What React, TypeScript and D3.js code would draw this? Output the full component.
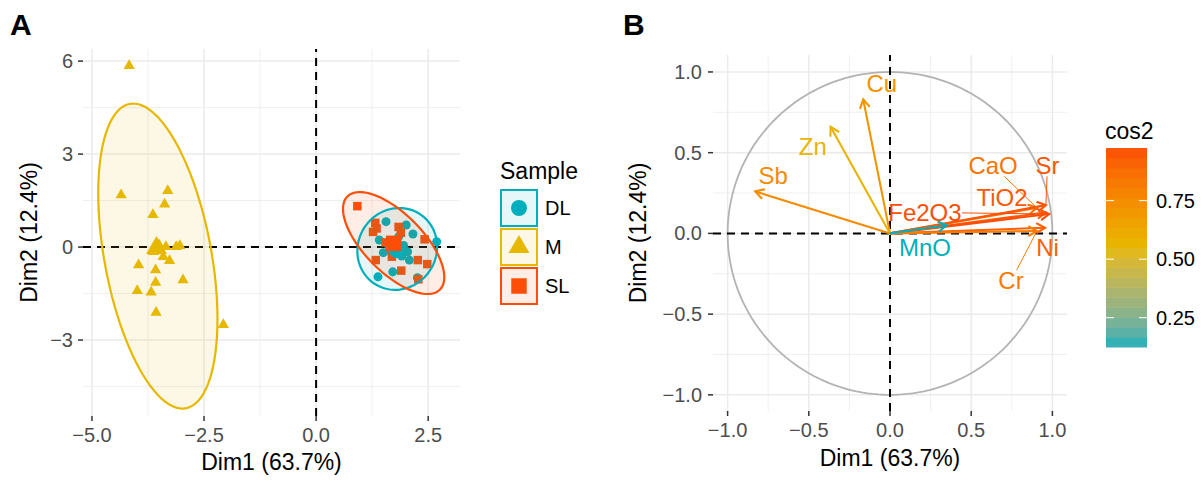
import React from "react";
import * as d3 from "d3";

const FONT = "'Liberation Sans', Arial, Helvetica, sans-serif";

// ---------- panel A : individuals ----------
const sampleGroups = ["DL", "M", "SL"];
const groupColors = ["#00AFBB", "#E7B800", "#FC4E07"];

const dlPoints: [number, number][] = [
  [1.56, 0.82], [2.01, 0.71], [2.16, 0.42], [1.41, 0.23], [2.69, 0.17],
  [1.5, -0.18], [1.67, -0.15], [1.88, -0.15], [2.04, -0.15], [1.91, -0.29],
  [2.08, -0.42], [1.71, -0.8], [1.38, -0.96], [2.26, -0.99], [1.84, 0.33],
  [1.62, 0.05], [1.95, 0.05],
];
const mPoints: [number, number][] = [
  [-4.17, 5.85], [-4.35, 1.68], [-3.31, 1.82], [-3.38, 1.38], [-3.64, 1.04],
  [-3.5, 0.06], [-3.35, 0.01], [-3.62, -0.15], [-3.12, 0.01], [-3.04, 0.04],
  [-3.41, -0.31], [-3.27, -0.44], [-3.96, -0.58], [-3.58, -0.74], [-2.97, -1.06],
  [-3.58, -1.14], [-3.99, -1.41], [-3.68, -1.46], [-3.57, -2.11], [-2.07, -2.51],
];
const slPoints: [number, number][] = [
  [0.92, 1.32], [1.32, 0.78], [1.27, 0.49], [1.35, 0.6], [1.84, 0.65],
  [1.89, 0.46], [2.42, 0.25], [1.33, -0.42], [1.69, -0.31], [2.27, -0.42],
  [2.48, -0.55], [1.9, -0.76], [2.28, -1.04], [1.55, 0.15],
];
const groupPoints = [dlPoints, mPoints, slPoints];
const groupMeans: [number, number][] = [[1.8, -0.1], [-3.56, -0.03], [1.73, 0.12]];
// ellipse per group: centre x, centre y, x radius, y radius, phase
const groupEllipses = [
  [1.81, -0.06, 0.89, 1.32, 0.053],
  [-3.53, -0.29, 1.33, 4.92, -0.425],
  [1.73, 0.13, 1.13, 1.645, -0.733],
];

const aXTicks = [-5, -2.5, 0, 2.5];
const aXMinor = [-3.75, -1.25, 1.25];
const aYTicks = [-3, 0, 3, 6];
const aYMinor = [-4.5, -1.5, 1.5, 4.5];

// ---------- panel B : variables ----------
const variables = ["Cu", "Zn", "Sb", "CaO", "Sr", "TiO2", "Fe2O3", "Ni", "Cr", "MnO"];
const varDim1 = [-0.165, -0.366, -0.83, 0.905, 0.96, 0.96, 0.98, 0.955, 0.905, 0.35];
const varDim2 = [0.83, 0.66, 0.26, 0.158, 0.175, 0.13, 0.12, 0.035, 0.015, 0.05];
const labelDim1 = [-0.05, -0.475, -0.72, 0.635, 0.97, 0.69, 0.215, 0.97, 0.745, 0.215];
const labelDim2 = [0.925, 0.54, 0.36, 0.42, 0.42, 0.22, 0.13, -0.085, -0.295, -0.085];
const labelSegment = [false, false, false, true, true, true, true, false, true, false];

const bTicks = [-1, -0.5, 0, 0.5, 1];
const bMinor = [-0.75, -0.25, 0.25, 0.75];
const cosTicks = [0.25, 0.5, 0.75];
const gradientColors = ["#00AFBB", "#E7B800", "#FC4E07"];

const GRID = "#EBEBEB";
const TICKTXT = "#4D4D4D";

function ellipsePath(e: number[], x: d3.ScaleLinear<number, number>, y: d3.ScaleLinear<number, number>) {
  const [cx, cy, rx, ry, ph] = e;
  const pts = d3.range(0, 100).map((i) => {
    const t = (i / 100) * 2 * Math.PI;
    return [x(cx + rx * Math.cos(t)), y(cy + ry * Math.sin(t + ph))] as [number, number];
  });
  return d3.line().curve(d3.curveLinearClosed)(pts) || "";
}

const symbolTypes = [d3.symbolCircle, d3.symbolTriangle, d3.symbolSquare];
const smallAreas = [64, 55, 72];
const bigAreas = [200, 190, 240];

function PanelA() {
  const x = d3.scaleLinear().domain([-5.2, 3.21]).range([83, 460]);
  const y = d3.scaleLinear().domain([-5.45, 6.39]).range([416, 49]);
  const [x0, x1] = x.range();
  const [y0, y1] = y.range();
  const fx = d3.format(".1f");
  const fy = d3.format("d");
  return (
    <g>
      {aXMinor.map((v) => <line key={"xm" + v} x1={x(v)} x2={x(v)} y1={y0} y2={y1} stroke={GRID} strokeWidth={0.8} />)}
      {aYMinor.map((v) => <line key={"ym" + v} x1={x0} x2={x1} y1={y(v)} y2={y(v)} stroke={GRID} strokeWidth={0.8} />)}
      {aXTicks.map((v) => <line key={"xM" + v} x1={x(v)} x2={x(v)} y1={y0} y2={y1} stroke={GRID} strokeWidth={1.5} />)}
      {aYTicks.map((v) => <line key={"yM" + v} x1={x0} x2={x1} y1={y(v)} y2={y(v)} stroke={GRID} strokeWidth={1.5} />)}
      <line x1={x0} x2={x1} y1={y(0)} y2={y(0)} stroke="#000" strokeWidth={2} strokeDasharray="8,6" />
      <line x1={x(0)} x2={x(0)} y1={y0} y2={y1} stroke="#000" strokeWidth={2} strokeDasharray="8,6" />
      {groupPoints.map((pts, g) =>
        pts.map((p, i) => (
          <path key={g + "-" + i} transform={`translate(${x(p[0])},${y(p[1])})`}
            d={d3.symbol(symbolTypes[g], smallAreas[g])() || ""} fill={groupColors[g]} />
        ))
      )}
      {groupEllipses.map((e, g) => (
        <path key={"ef" + g} d={ellipsePath(e, x, y)} fill={groupColors[g]} fillOpacity={0.1} stroke="none" />
      ))}
      {groupEllipses.map((e, g) => (
        <path key={"es" + g} d={ellipsePath(e, x, y)} fill="none" stroke={groupColors[g]} strokeWidth={2.2} />
      ))}
      {groupMeans.map((p, g) => (
        <path key={"mean" + g} transform={`translate(${x(p[0])},${y(p[1])})`}
          d={d3.symbol(symbolTypes[g], bigAreas[g])() || ""} fill={groupColors[g]} />
      ))}
      {aXTicks.map((v) => (
        <g key={"xt" + v}>
          <line x1={x(v)} x2={x(v)} y1={y0} y2={y0 + 5} stroke="#333" strokeWidth={1.5} />
          <text x={x(v)} y={442} textAnchor="middle" fontSize={20} fill={TICKTXT}>{fx(v)}</text>
        </g>
      ))}
      {aYTicks.map((v) => (
        <g key={"yt" + v}>
          <line x1={x0 - 5} x2={x0} y1={y(v)} y2={y(v)} stroke="#333" strokeWidth={1.5} />
          <text x={73} y={y(v)} dy="0.35em" textAnchor="end" fontSize={20} fill={TICKTXT}>{fy(v)}</text>
        </g>
      ))}
      <text x={(x0 + x1) / 2} y={470} textAnchor="middle" fontSize={23} fill="#000">Dim1 (63.7%)</text>
      <text transform={`translate(37,${(y0 + y1) / 2}) rotate(-90)`} textAnchor="middle" fontSize={23} fill="#000">Dim2 (12.4%)</text>
      <text x={10} y={35} fontSize={30} fontWeight="bold" fill="#000">A</text>
      {/* legend */}
      <text x={500} y={179} fontSize={23} fill="#000">Sample</text>
      {sampleGroups.map((s, g) => {
        const ky = 189 + g * 39;
        return (
          <g key={"lg" + s}>
            <rect x={501} y={ky + 1} width={36} height={36} fill="#fff" />
            <rect x={501} y={ky + 1} width={36} height={36} fill={groupColors[g]} fillOpacity={0.1}
              stroke={groupColors[g]} strokeWidth={2} />
            <path transform={`translate(519,${ky + 19})`} d={d3.symbol(symbolTypes[g], bigAreas[g])() || ""} fill={groupColors[g]} />
            <text x={545} y={ky + 19} dy="0.35em" fontSize={20} fill="#000">{s}</text>
          </g>
        );
      })}
    </g>
  );
}

function PanelB() {
  const x = d3.scaleLinear().domain([-1.09, 1.09]).range([713, 1067]);
  const y = d3.scaleLinear().domain([-1.1, 1.105]).range([411, 55]);
  const [x0, x1] = x.range();
  const [y0, y1] = y.range();
  const f = d3.format(".1f");
  const cos2 = variables.map((_, i) => varDim1[i] ** 2 + varDim2[i] ** 2);
  const [cmin, cmax] = d3.extent(cos2) as [number, number];
  const color = d3.scaleLinear<string>()
    .domain([cmin, (cmin + cmax) / 2, cmax])
    .range(gradientColors)
    .interpolate(d3.interpolateLab);
  const circle = d3.range(0, 181).map((i) => {
    const t = (i / 180) * 2 * Math.PI;
    return [x(Math.cos(t)), y(Math.sin(t))] as [number, number];
  });
  const fs = 24;
  // colour bar
  const cb = d3.scaleLinear().domain([cmin, cmax]).range([347, 148]);
  const nbin = 20;
  const bins = d3.range(nbin).map((i) => cmin + ((i + 0.5) / nbin) * (cmax - cmin));
  const binH = (347 - 148) / nbin;
  return (
    <g>
      {bMinor.map((v) => <line key={"xm" + v} x1={x(v)} x2={x(v)} y1={y0} y2={y1} stroke={GRID} strokeWidth={0.8} />)}
      {bMinor.map((v) => <line key={"ym" + v} x1={x0} x2={x1} y1={y(v)} y2={y(v)} stroke={GRID} strokeWidth={0.8} />)}
      {bTicks.map((v) => <line key={"xM" + v} x1={x(v)} x2={x(v)} y1={y0} y2={y1} stroke={GRID} strokeWidth={1.5} />)}
      {bTicks.map((v) => <line key={"yM" + v} x1={x0} x2={x1} y1={y(v)} y2={y(v)} stroke={GRID} strokeWidth={1.5} />)}
      <path d={d3.line()(circle) || ""} fill="none" stroke="#B3B3B3" strokeWidth={1.8} />
      <line x1={x0} x2={x1} y1={y(0)} y2={y(0)} stroke="#000" strokeWidth={2} strokeDasharray="8,6" />
      <line x1={x(0)} x2={x(0)} y1={y0} y2={y1} stroke="#000" strokeWidth={2} strokeDasharray="8,6" />
      {variables.map((v, i) => {
        const tx = x(varDim1[i]);
        const ty = y(varDim2[i]);
        const ang = Math.atan2(ty - y(0), tx - x(0));
        const L = 10;
        const a1 = ang + Math.PI - Math.PI / 6;
        const a2 = ang + Math.PI + Math.PI / 6;
        const c = color(cos2[i]);
        return (
          <g key={"ar" + v}>
            <line x1={x(0)} y1={y(0)} x2={tx} y2={ty} stroke={c} strokeWidth={2.1} />
            <polyline points={`${tx + L * Math.cos(a1)},${ty + L * Math.sin(a1)} ${tx},${ty} ${tx + L * Math.cos(a2)},${ty + L * Math.sin(a2)}`}
              fill="none" stroke={c} strokeWidth={2.1} />
          </g>
        );
      })}
      {variables.map((v, i) => {
        const lx = x(labelDim1[i]);
        const ly = y(labelDim2[i]);
        const c = color(cos2[i]);
        let seg = null;
        if (labelSegment[i]) {
          const tx = x(varDim1[i]);
          const ty = y(varDim2[i]);
          const hw = v.length * fs * 0.3 + 1;
          const hh = fs * 0.45;
          const dx = tx - lx;
          const dy = ty - ly;
          const s = Math.min(hw / Math.abs(dx || 1e-6), hh / Math.abs(dy || 1e-6));
          seg = <line x1={lx + dx * s} y1={ly + dy * s} x2={tx} y2={ty} stroke={c} strokeWidth={1} />;
        }
        return (
          <g key={"lb" + v}>
            {seg}
            <text x={lx} y={ly} dy="0.35em" textAnchor="middle" fontSize={fs} fill={c}>{v}</text>
          </g>
        );
      })}
      {bTicks.map((v) => (
        <g key={"xt" + v}>
          <line x1={x(v)} x2={x(v)} y1={y0} y2={y0 + 5} stroke="#333" strokeWidth={1.5} />
          <text x={x(v)} y={437} textAnchor="middle" fontSize={20} fill={TICKTXT}>{f(v)}</text>
        </g>
      ))}
      {bTicks.map((v) => (
        <g key={"yt" + v}>
          <line x1={x0 - 5} x2={x0} y1={y(v)} y2={y(v)} stroke="#333" strokeWidth={1.5} />
          <text x={702} y={y(v)} dy="0.35em" textAnchor="end" fontSize={20} fill={TICKTXT}>{f(v)}</text>
        </g>
      ))}
      <text x={(x0 + x1) / 2} y={466} textAnchor="middle" fontSize={23} fill="#000">Dim1 (63.7%)</text>
      <text transform={`translate(646,${(y0 + y1) / 2}) rotate(-90)`} textAnchor="middle" fontSize={23} fill="#000">Dim2 (12.4%)</text>
      <text x={623} y={35} fontSize={30} fontWeight="bold" fill="#000">B</text>
      {/* colour bar */}
      <text x={1105} y={139} fontSize={23} fill="#000">cos2</text>
      {bins.map((b, i) => (
        <rect key={"bin" + i} x={1106} y={347 - (i + 1) * binH} width={41} height={binH + 0.5} fill={color(b)} />
      ))}
      {cosTicks.map((t) => (
        <g key={"ct" + t}>
          <line x1={1106} x2={1114} y1={cb(t)} y2={cb(t)} stroke="#fff" strokeWidth={1} />
          <line x1={1139} x2={1147} y1={cb(t)} y2={cb(t)} stroke="#fff" strokeWidth={1} />
          <text x={1156} y={cb(t)} dy="0.35em" fontSize={20} fill="#000">{d3.format(".2f")(t)}</text>
        </g>
      ))}
    </g>
  );
}

export default function App() {
  return (
    <svg width={1204} height={482} style={{ position: "absolute", left: 0, top: 0, background: "#fff", fontFamily: FONT }}>
      <rect width={1204} height={482} fill="#fff" />
      <PanelA />
      <PanelB />
    </svg>
  );
}
